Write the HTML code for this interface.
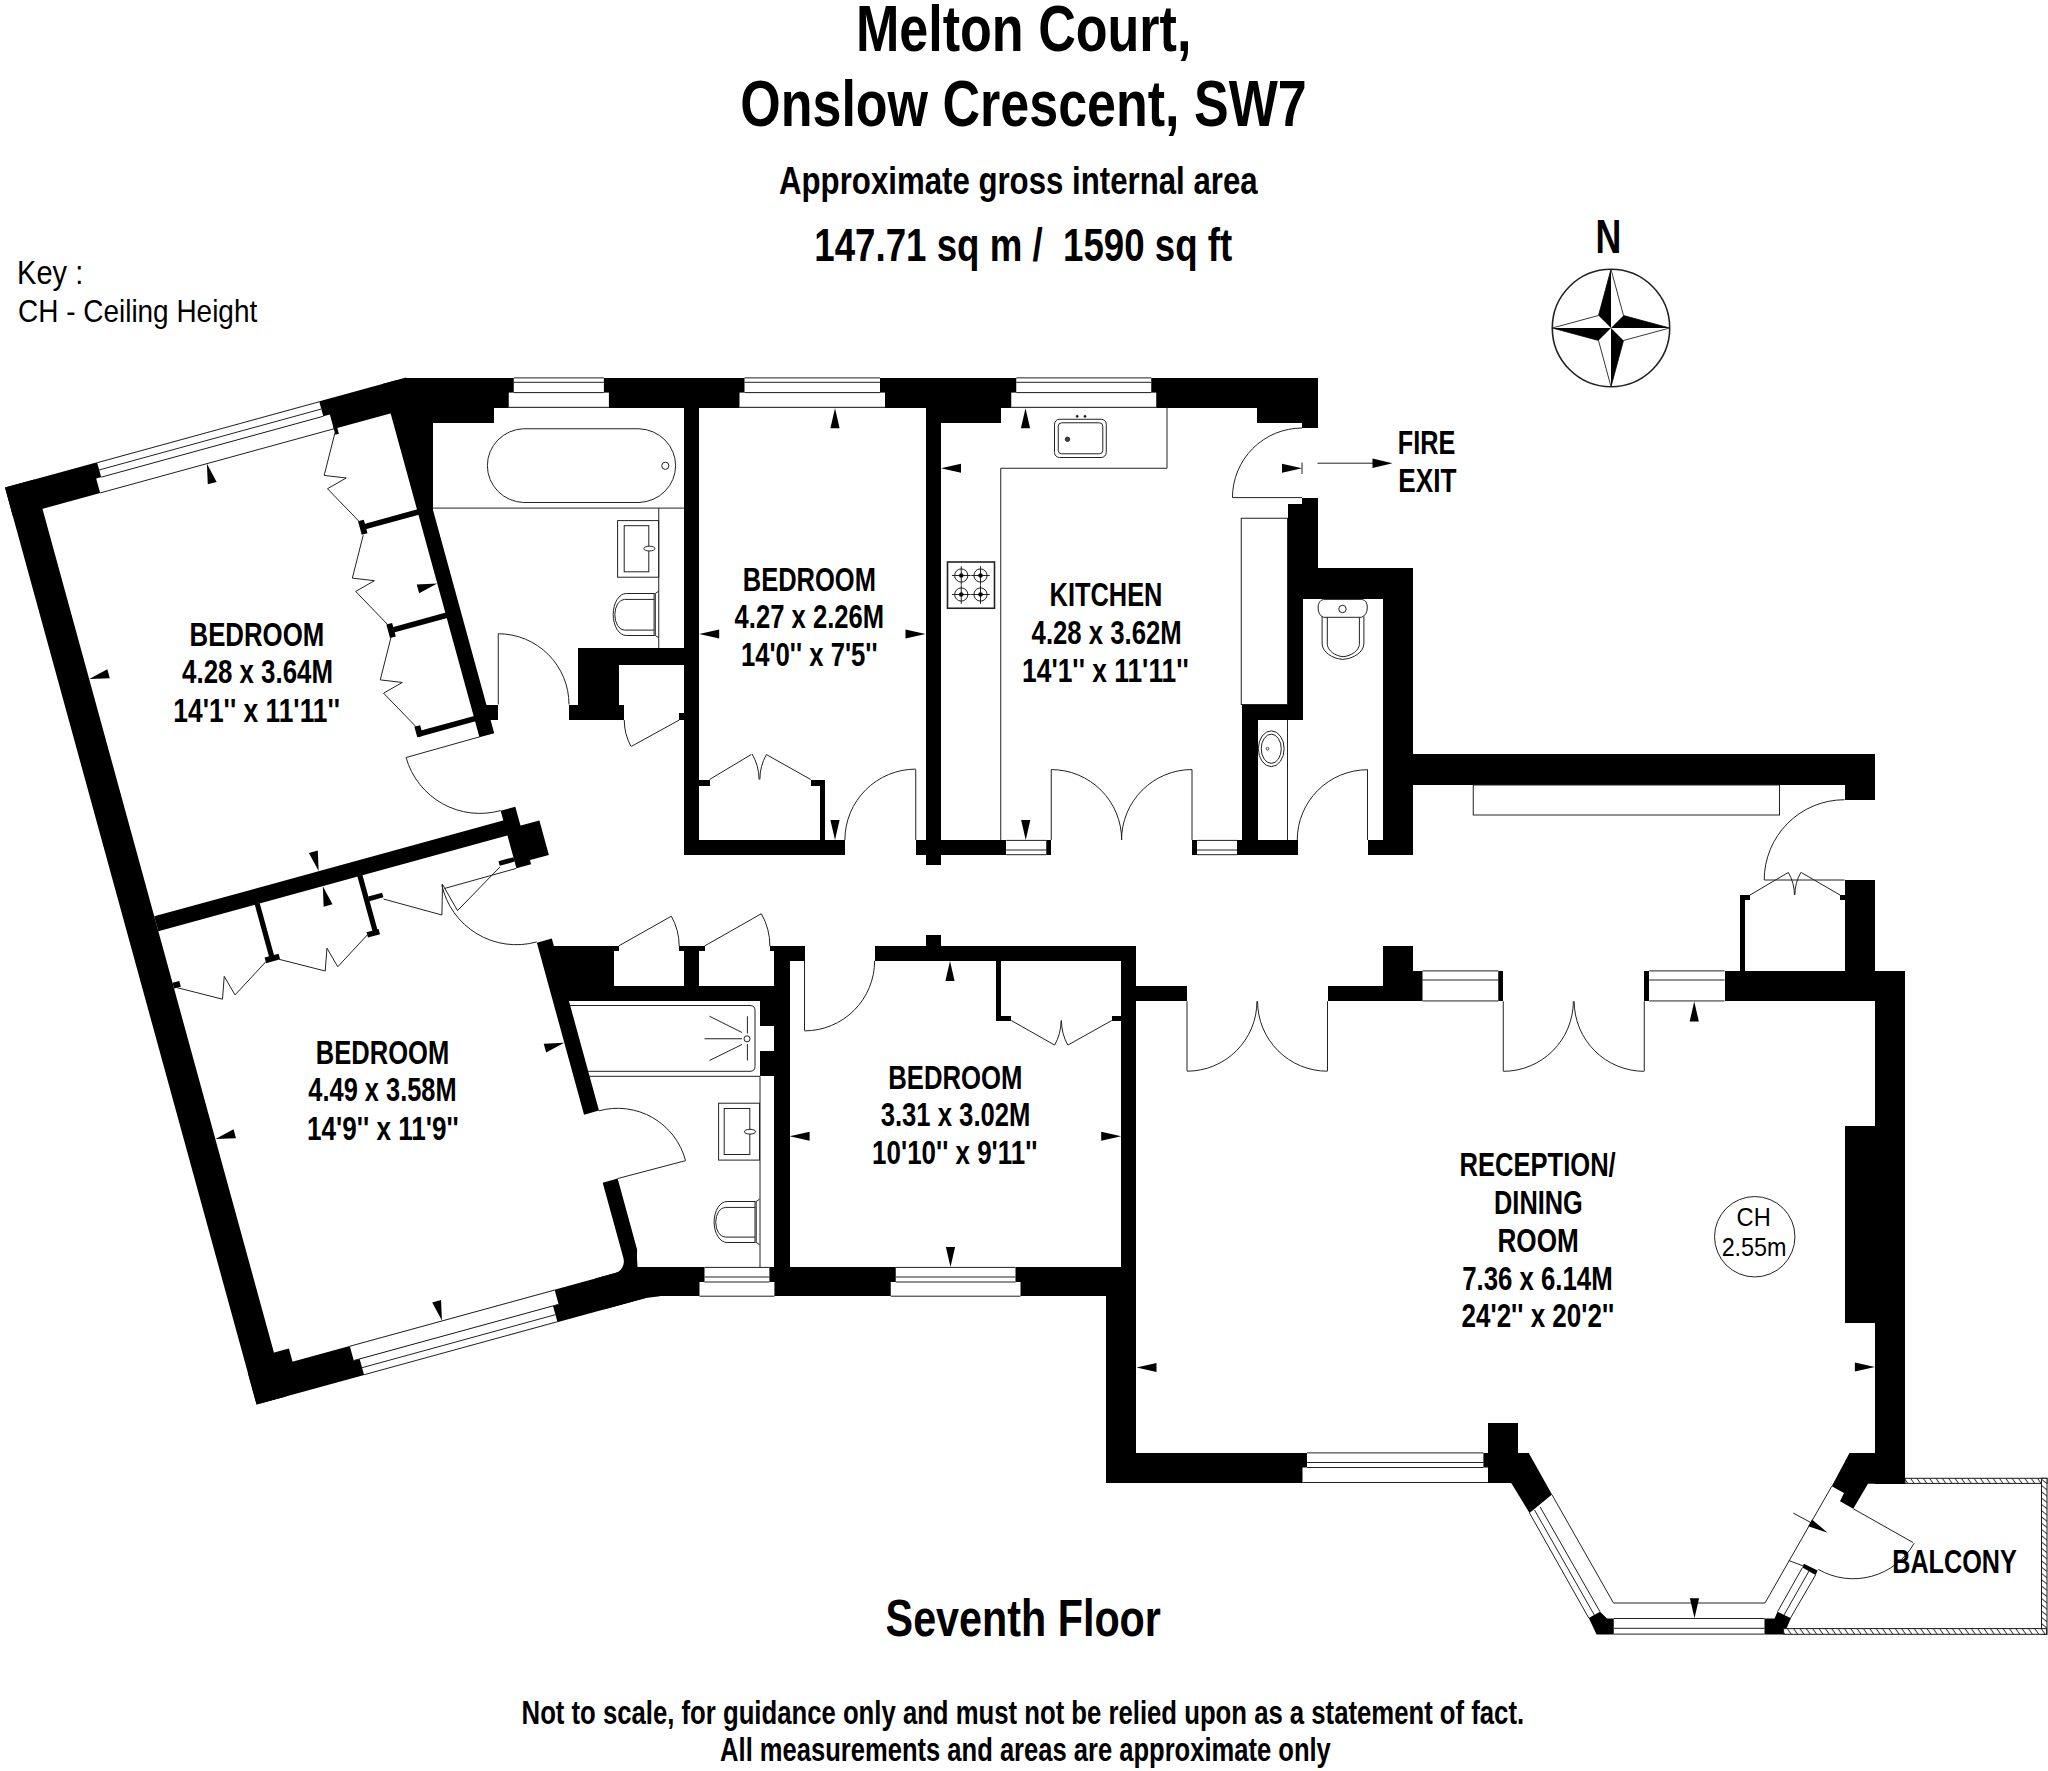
<!DOCTYPE html>
<html><head><meta charset="utf-8"><title>Melton Court floor plan</title>
<style>html,body{margin:0;padding:0;background:#fff}svg{display:block}text{font-family:"Liberation Sans",sans-serif;fill:#000;white-space:pre}</style>
</head><body>
<svg width="2048" height="1771" viewBox="0 0 2048 1771">
<defs><pattern id="hatch" width="5.2" height="5.2" patternUnits="userSpaceOnUse" patternTransform="rotate(55)"><rect width="5.2" height="5.2" fill="#fff"/><line x1="0" y1="0.5" x2="5.2" y2="0.5" stroke="#2a2a2a" stroke-width="0.9"/></pattern><pattern id="hatchv" width="4.9" height="4.9" patternUnits="userSpaceOnUse" patternTransform="rotate(38.7)"><rect width="4.9" height="4.9" fill="#fff"/><line x1="0" y1="0.5" x2="4.9" y2="0.5" stroke="#2a2a2a" stroke-width="0.9"/></pattern></defs>
<rect width="2048" height="1771" fill="#fff"/>
<g id="walls">
<polygon points="5.00,487.50 405.99,377.50 414.06,406.92 13.07,516.91" fill="#000" />
<polygon points="5.00,487.50 34.41,479.43 285.99,1396.55 256.58,1404.62" fill="#000" />
<polygon points="248.11,1373.76 637.24,1267.02 645.70,1297.88 256.58,1404.62" fill="#000" />
<polygon points="271.54,1353.33 288.90,1348.57 293.00,1363.52 275.65,1368.28" fill="#000" />
<polygon points="382.55,383.93 397.31,379.88 494.21,733.13 479.45,737.18" fill="#000" />
<polygon points="389.22,383.66 407.00,378.50 433.00,378.50 433.00,509.20 427.79,516.70" fill="#000" />
<polygon points="154.25,916.29 506.73,819.60 510.83,834.55 158.35,931.24" fill="#000" />
<polygon points="500.66,810.69 515.31,806.67 531.11,864.24 516.45,868.27" fill="#000" />
<polygon points="516.93,826.55 539.40,820.39 548.87,854.91 526.40,861.08" fill="#000" />
<polygon points="536.87,942.72 551.82,938.61 598.99,1110.56 584.04,1114.66" fill="#000" />
<polygon points="602.69,1182.65 617.64,1178.55 637.08,1249.43 637.00,1258.00 637.50,1267.00 660.00,1267.00 660.00,1296.25 645.70,1297.88 603.75,1309.38 595.29,1278.52 615.06,1273.10 615.06,1273.10 617.95,1271.89 620.42,1269.96 622.31,1267.47 623.49,1264.57 623.88,1261.46 623.46,1258.35 623.46,1258.35" fill="#000" />
<polygon points="360.58,524.97 417.48,509.36 418.96,514.76 362.06,530.37" fill="#000" />
<polygon points="388.89,628.16 445.78,612.55 447.27,617.95 390.37,633.56" fill="#000" />
<polygon points="417.24,731.54 474.14,715.93 475.62,721.33 418.73,736.94" fill="#000" />
<polygon points="358.02,521.32 363.81,519.73 367.51,533.23 361.73,534.82" fill="#000" />
<polygon points="386.33,624.50 392.11,622.92 395.82,636.42 390.03,638.00" fill="#000" />
<polygon points="414.37,726.73 420.16,725.14 423.07,735.75 417.28,737.34" fill="#000" />
<polygon points="254.66,904.30 259.67,902.93 275.01,958.86 270.00,960.24" fill="#000" />
<polygon points="264.60,957.57 278.59,953.74 280.12,959.33 266.14,963.16" fill="#000" />
<polygon points="357.36,876.13 362.38,874.76 378.51,933.58 373.50,934.96" fill="#000" />
<polygon points="366.52,932.21 378.58,928.90 380.03,934.20 367.98,937.51" fill="#000" />
<polygon points="368.14,896.51 382.12,892.67 383.39,897.30 369.41,901.14" fill="#000" />
<polygon points="172.50,982.83 179.25,980.98 180.84,986.77 174.09,988.62" fill="#000" />
<polygon points="498.46,861.28 513.50,857.15 514.72,861.58 499.68,865.71" fill="#000" />
<g shape-rendering="crispEdges">
<rect x="406.00" y="377.50" width="911.50" height="30.00" fill="#000"/>
<rect x="406.00" y="377.50" width="87.75" height="45.20" fill="#000"/>
<rect x="925.50" y="407.50" width="75.25" height="15.00" fill="#000"/>
<rect x="1257.00" y="407.50" width="60.50" height="15.00" fill="#000"/>
<rect x="1302.00" y="422.50" width="15.50" height="5.50" fill="#000"/>
<rect x="683.90" y="407.50" width="15.10" height="447.50" fill="#000"/>
<rect x="925.60" y="407.50" width="15.15" height="457.50" fill="#000"/>
<rect x="683.90" y="840.00" width="160.60" height="15.00" fill="#000"/>
<rect x="915.75" y="840.00" width="90.50" height="15.00" fill="#000"/>
<rect x="578.00" y="648.00" width="105.90" height="17.00" fill="#000"/>
<rect x="578.00" y="648.00" width="40.75" height="72.00" fill="#000"/>
<rect x="568.75" y="704.50" width="55.00" height="15.50" fill="#000"/>
<rect x="679.00" y="713.00" width="4.90" height="7.00" fill="#000"/>
<rect x="485.00" y="704.50" width="13.25" height="15.50" fill="#000"/>
<rect x="1302.00" y="498.25" width="15.50" height="69.25" fill="#000"/>
<rect x="1287.50" y="503.75" width="30.00" height="63.75" fill="#000"/>
<rect x="1287.50" y="567.50" width="125.00" height="31.25" fill="#000"/>
<rect x="1382.50" y="567.50" width="30.00" height="287.50" fill="#000"/>
<rect x="1287.50" y="503.75" width="15.00" height="216.25" fill="#000"/>
<rect x="1242.00" y="704.50" width="60.50" height="15.50" fill="#000"/>
<rect x="1242.00" y="704.50" width="15.50" height="150.50" fill="#000"/>
<rect x="1046.25" y="840.00" width="5.00" height="15.00" fill="#000"/>
<rect x="1192.00" y="840.00" width="5.00" height="15.00" fill="#000"/>
<rect x="1237.00" y="840.00" width="60.50" height="15.00" fill="#000"/>
<rect x="1367.50" y="840.00" width="45.00" height="15.00" fill="#000"/>
<rect x="1412.50" y="753.75" width="462.50" height="31.25" fill="#000"/>
<rect x="1844.50" y="785.00" width="30.50" height="15.00" fill="#000"/>
<rect x="1844.50" y="880.00" width="30.50" height="90.50" fill="#000"/>
<rect x="1724.50" y="970.50" width="180.50" height="30.75" fill="#000"/>
<rect x="1875.00" y="970.50" width="30.00" height="513.00" fill="#000"/>
<rect x="1845.00" y="1125.75" width="30.00" height="196.75" fill="#000"/>
<rect x="1136.25" y="985.75" width="50.75" height="15.50" fill="#000"/>
<rect x="1327.50" y="985.75" width="95.00" height="15.50" fill="#000"/>
<rect x="1382.50" y="946.25" width="30.00" height="39.50" fill="#000"/>
<rect x="1412.50" y="971.25" width="10.00" height="30.00" fill="#000"/>
<rect x="1498.25" y="970.50" width="5.00" height="30.75" fill="#000"/>
<rect x="1644.25" y="970.50" width="5.00" height="30.75" fill="#000"/>
<rect x="875.00" y="946.25" width="261.25" height="14.50" fill="#000"/>
<rect x="925.75" y="935.00" width="15.00" height="11.25" fill="#000"/>
<rect x="1121.25" y="946.25" width="15.00" height="350.00" fill="#000"/>
<rect x="637.50" y="1267.00" width="498.75" height="29.25" fill="#000"/>
<rect x="1106.25" y="1267.00" width="30.00" height="215.50" fill="#000"/>
<rect x="1106.25" y="1452.50" width="200.75" height="30.00" fill="#000"/>
<rect x="1106.25" y="1467.50" width="196.25" height="15.00" fill="#000"/>
<rect x="1488.00" y="1423.00" width="30.25" height="60.00" fill="#000"/>
<rect x="1483.25" y="1452.50" width="4.75" height="15.00" fill="#000"/>
<rect x="774.25" y="946.25" width="15.25" height="350.00" fill="#000"/>
<rect x="774.25" y="946.25" width="30.25" height="14.50" fill="#000"/>
<rect x="770.00" y="946.25" width="4.30" height="4.50" fill="#000"/>
<rect x="760.00" y="1001.25" width="14.25" height="25.00" fill="#000"/>
<rect x="760.00" y="1051.25" width="14.25" height="25.00" fill="#000"/>
<rect x="552.50" y="945.80" width="61.40" height="55.45" fill="#000"/>
<rect x="613.90" y="945.80" width="5.00" height="4.80" fill="#000"/>
<rect x="684.25" y="946.25" width="15.00" height="39.50" fill="#000"/>
<rect x="679.25" y="946.25" width="25.25" height="4.50" fill="#000"/>
<rect x="568.75" y="985.75" width="205.50" height="15.50" fill="#000"/>
<rect x="1739.50" y="895.00" width="5.00" height="75.50" fill="#000"/>
<rect x="1739.50" y="895.00" width="10.50" height="5.00" fill="#000"/>
<rect x="1840.00" y="895.00" width="4.50" height="5.00" fill="#000"/>
<rect x="699.00" y="779.50" width="10.50" height="6.00" fill="#000"/>
<rect x="810.75" y="779.50" width="14.25" height="6.00" fill="#000"/>
<rect x="820.00" y="779.50" width="5.00" height="60.50" fill="#000"/>
<rect x="996.25" y="960.75" width="4.50" height="59.75" fill="#000"/>
<rect x="996.25" y="1015.50" width="15.00" height="5.00" fill="#000"/>
<rect x="1111.75" y="1015.50" width="9.50" height="5.00" fill="#000"/>
</g>
<polygon points="1512.00,1453.00 1528.75,1453.00 1552.00,1494.50 1529.50,1513.00 1511.25,1483.00 1512.00,1470.00" fill="#000" />
<polygon points="1588.75,1618.00 1600.00,1611.75 1607.00,1618.50 1613.75,1618.50 1613.75,1634.40 1596.60,1634.40" fill="#000" />
<polygon points="1764.50,1618.50 1774.50,1618.50 1777.50,1611.75 1791.00,1618.20 1783.60,1634.40 1764.50,1634.40" fill="#000" />
<polygon points="1849.50,1453.00 1875.00,1453.00 1905.00,1483.70 1868.00,1483.70 1853.25,1508.75 1840.00,1501.25 1844.00,1493.00 1831.75,1486.25" fill="#000" />
<polygon points="1803.90,1563.75 1817.60,1570.60 1815.60,1574.90 1802.40,1567.60" fill="#000" />
</g>
<g id="windows">
<rect x="513.75" y="377.30" width="90.15" height="15.30" fill="#fff"/>
<rect x="508.75" y="392.60" width="100.15" height="15.00" fill="#fff"/>
<line x1="513.75" y1="377.90" x2="603.90" y2="377.90" stroke="#222" stroke-width="1.00"/>
<line x1="513.75" y1="382.30" x2="603.90" y2="382.30" stroke="#222" stroke-width="1.00"/>
<line x1="513.75" y1="392.60" x2="603.90" y2="392.60" stroke="#222" stroke-width="1.00"/>
<line x1="508.75" y1="407.30" x2="608.90" y2="407.30" stroke="#222" stroke-width="1.00"/>
<rect x="744.50" y="377.30" width="135.50" height="15.30" fill="#fff"/>
<rect x="739.50" y="392.60" width="145.50" height="15.00" fill="#fff"/>
<line x1="744.50" y1="377.90" x2="880.00" y2="377.90" stroke="#222" stroke-width="1.00"/>
<line x1="744.50" y1="382.30" x2="880.00" y2="382.30" stroke="#222" stroke-width="1.00"/>
<line x1="744.50" y1="392.60" x2="880.00" y2="392.60" stroke="#222" stroke-width="1.00"/>
<line x1="739.50" y1="407.30" x2="885.00" y2="407.30" stroke="#222" stroke-width="1.00"/>
<rect x="1016.25" y="377.30" width="135.00" height="15.30" fill="#fff"/>
<rect x="1011.25" y="392.60" width="145.00" height="15.00" fill="#fff"/>
<line x1="1016.25" y1="377.90" x2="1151.25" y2="377.90" stroke="#222" stroke-width="1.00"/>
<line x1="1016.25" y1="382.30" x2="1151.25" y2="382.30" stroke="#222" stroke-width="1.00"/>
<line x1="1016.25" y1="392.60" x2="1151.25" y2="392.60" stroke="#222" stroke-width="1.00"/>
<line x1="1011.25" y1="407.30" x2="1156.25" y2="407.30" stroke="#222" stroke-width="1.00"/>
<rect x="704.50" y="1267.00" width="64.90" height="15.00" fill="#fff"/>
<rect x="699.50" y="1282.00" width="74.90" height="14.60" fill="#fff"/>
<line x1="704.50" y1="1267.40" x2="769.40" y2="1267.40" stroke="#222" stroke-width="1.00"/>
<line x1="704.50" y1="1277.00" x2="769.40" y2="1277.00" stroke="#222" stroke-width="1.00"/>
<line x1="704.50" y1="1282.00" x2="769.40" y2="1282.00" stroke="#222" stroke-width="1.00"/>
<line x1="699.50" y1="1296.20" x2="774.40" y2="1296.20" stroke="#222" stroke-width="1.00"/>
<rect x="895.75" y="1267.00" width="119.75" height="15.00" fill="#fff"/>
<rect x="890.75" y="1282.00" width="129.75" height="14.60" fill="#fff"/>
<line x1="895.75" y1="1267.40" x2="1015.50" y2="1267.40" stroke="#222" stroke-width="1.00"/>
<line x1="895.75" y1="1277.00" x2="1015.50" y2="1277.00" stroke="#222" stroke-width="1.00"/>
<line x1="895.75" y1="1282.00" x2="1015.50" y2="1282.00" stroke="#222" stroke-width="1.00"/>
<line x1="890.75" y1="1296.20" x2="1020.50" y2="1296.20" stroke="#222" stroke-width="1.00"/>
<rect x="1307.10" y="1452.50" width="176.30" height="15.00" fill="#fff"/>
<rect x="1302.50" y="1467.50" width="185.50" height="15.40" fill="#fff"/>
<line x1="1307.10" y1="1452.90" x2="1483.40" y2="1452.90" stroke="#222" stroke-width="1.00"/>
<line x1="1307.10" y1="1462.50" x2="1483.40" y2="1462.50" stroke="#222" stroke-width="1.00"/>
<line x1="1307.10" y1="1467.50" x2="1483.40" y2="1467.50" stroke="#222" stroke-width="1.00"/>
<line x1="1302.50" y1="1482.50" x2="1488.00" y2="1482.50" stroke="#222" stroke-width="1.00"/>
<polygon points="97.02,461.95 319.11,401.02 323.29,416.26 101.20,477.18" fill="#fff" />
<polygon points="96.18,478.56 329.85,414.46 333.90,429.22 100.23,493.31" fill="#fff" />
<polyline points="97.23,462.72 319.33,401.79" fill="none" stroke="#222" stroke-width="1.00" stroke-linejoin="miter"/>
<polyline points="99.21,469.95 321.31,409.03" fill="none" stroke="#222" stroke-width="1.00" stroke-linejoin="miter"/>
<polyline points="101.20,477.18 323.29,416.26" fill="none" stroke="#222" stroke-width="1.00" stroke-linejoin="miter"/>
<polyline points="100.13,492.93 333.79,428.83" fill="none" stroke="#222" stroke-width="1.00" stroke-linejoin="miter"/>
<polygon points="333.29,427.00 336.76,426.05 338.88,433.76 335.41,434.71" fill="#000" />
<polygon points="349.71,1345.68 554.54,1289.50 558.61,1304.35 353.78,1360.54" fill="#fff" />
<polygon points="359.66,1358.92 553.02,1305.88 557.57,1322.47 364.21,1375.51" fill="#fff" />
<polyline points="349.86,1346.26 554.70,1290.07" fill="none" stroke="#222" stroke-width="1.00" stroke-linejoin="miter"/>
<polyline points="353.78,1360.54 558.61,1304.35" fill="none" stroke="#222" stroke-width="1.00" stroke-linejoin="miter"/>
<polyline points="362.07,1367.70 555.43,1314.66" fill="none" stroke="#222" stroke-width="1.00" stroke-linejoin="miter"/>
<polyline points="364.00,1374.74 557.36,1321.70" fill="none" stroke="#222" stroke-width="1.00" stroke-linejoin="miter"/>
<rect x="1006.25" y="840.00" width="40.00" height="15.00" fill="#fff"/>
<line x1="1006.25" y1="840.40" x2="1046.25" y2="840.40" stroke="#222" stroke-width="1.00"/>
<line x1="1006.25" y1="850.00" x2="1046.25" y2="850.00" stroke="#222" stroke-width="1.00"/>
<line x1="1006.25" y1="854.70" x2="1046.25" y2="854.70" stroke="#222" stroke-width="1.00"/>
<rect x="1197.00" y="840.00" width="40.00" height="15.00" fill="#fff"/>
<line x1="1197.00" y1="840.40" x2="1237.00" y2="840.40" stroke="#222" stroke-width="1.00"/>
<line x1="1197.00" y1="850.00" x2="1237.00" y2="850.00" stroke="#222" stroke-width="1.00"/>
<line x1="1197.00" y1="854.70" x2="1237.00" y2="854.70" stroke="#222" stroke-width="1.00"/>
<rect x="1422.50" y="970.50" width="75.75" height="30.75" fill="#fff"/>
<line x1="1422.50" y1="970.90" x2="1498.25" y2="970.90" stroke="#222" stroke-width="1.00"/>
<line x1="1422.50" y1="980.00" x2="1498.25" y2="980.00" stroke="#222" stroke-width="1.00"/>
<line x1="1422.50" y1="1000.95" x2="1498.25" y2="1000.95" stroke="#222" stroke-width="1.00"/>
<rect x="1649.25" y="970.50" width="75.25" height="30.75" fill="#fff"/>
<line x1="1649.25" y1="970.90" x2="1724.50" y2="970.90" stroke="#222" stroke-width="1.00"/>
<line x1="1649.25" y1="980.00" x2="1724.50" y2="980.00" stroke="#222" stroke-width="1.00"/>
<line x1="1649.25" y1="1000.95" x2="1724.50" y2="1000.95" stroke="#222" stroke-width="1.00"/>
<polyline points="1529.50,1513.00 1588.75,1618.00" fill="none" stroke="#222" stroke-width="1.00" stroke-linejoin="miter"/>
<polyline points="1534.50,1510.00 1594.30,1615.00" fill="none" stroke="#222" stroke-width="1.00" stroke-linejoin="miter"/>
<polyline points="1540.00,1506.75 1600.00,1611.75" fill="none" stroke="#222" stroke-width="1.00" stroke-linejoin="miter"/>
<polyline points="1552.00,1494.80 1613.50,1603.00 1765.00,1603.00 1831.75,1486.25" fill="none" stroke="#222" stroke-width="1.00" stroke-linejoin="miter"/>
<line x1="1613.75" y1="1618.50" x2="1764.50" y2="1618.50" stroke="#222" stroke-width="1.00"/>
<line x1="1613.75" y1="1628.30" x2="1764.50" y2="1628.30" stroke="#222" stroke-width="1.00"/>
<line x1="1613.75" y1="1634.10" x2="1764.50" y2="1634.10" stroke="#222" stroke-width="1.00"/>
<polyline points="1777.50,1611.75 1802.40,1567.60" fill="none" stroke="#222" stroke-width="1.00" stroke-linejoin="miter"/>
<polyline points="1784.00,1615.00 1809.00,1571.00" fill="none" stroke="#222" stroke-width="1.00" stroke-linejoin="miter"/>
<polyline points="1790.50,1618.00 1815.60,1574.90" fill="none" stroke="#222" stroke-width="1.00" stroke-linejoin="miter"/>
<line x1="1788.75" y1="1560.50" x2="1803.90" y2="1566.25" stroke="#222" stroke-width="1.00"/>
<rect x="1905" y="1478.3" width="142" height="5.1" fill="url(#hatch)" stroke="#1a1a1a" stroke-width="1"/>
<rect x="2041.5" y="1478.3" width="5.5" height="156" fill="url(#hatchv)" stroke="#1a1a1a" stroke-width="1"/>
<rect x="1783.6" y="1628.6" width="263" height="5.7" fill="url(#hatch)" stroke="#1a1a1a" stroke-width="1"/>
</g>
<g id="lines">
<polyline points="335.02,432.54 324.18,475.43 346.24,477.99 327.51,488.73 360.11,522.51" fill="none" stroke="#222" stroke-width="1.00" stroke-linejoin="miter"/>
<polyline points="363.19,535.24 352.35,578.14 374.41,580.69 355.69,591.43 388.29,625.21" fill="none" stroke="#222" stroke-width="1.00" stroke-linejoin="miter"/>
<polyline points="391.10,636.99 380.26,679.88 402.32,682.44 383.60,693.17 416.19,726.95" fill="none" stroke="#222" stroke-width="1.00" stroke-linejoin="miter"/>
<polyline points="176.37,987.48 222.51,999.19 224.22,976.32 235.03,994.92 266.34,961.24" fill="none" stroke="#222" stroke-width="1.00" stroke-linejoin="miter"/>
<polyline points="279.08,959.30 325.22,971.01 326.93,948.15 337.74,966.75 369.04,933.07" fill="none" stroke="#222" stroke-width="1.00" stroke-linejoin="miter"/>
<polyline points="383.55,899.02 441.90,915.00 442.50,884.40 457.50,910.60 500.00,866.90" fill="none" stroke="#222" stroke-width="1.00" stroke-linejoin="miter"/>
<polyline points="516.28,868.41 444.40,888.50" fill="none" stroke="#222" stroke-width="1.00" stroke-linejoin="miter"/>
<path d="M441.72,884.57 A76.30,76.30 0 0 0 536.75,941.92" fill="none" stroke="#222" stroke-width="1.00"/>
<polyline points="479.86,736.76 406.21,757.48" fill="none" stroke="#222" stroke-width="1.00" stroke-linejoin="miter"/>
<path d="M406.07,757.52 A76.65,76.65 0 0 0 500.71,810.52" fill="none" stroke="#222" stroke-width="1.00"/>
<polyline points="617.64,1178.55 685.33,1160.71" fill="none" stroke="#222" stroke-width="1.00" stroke-linejoin="miter"/>
<path d="M685.57,1160.65 A70.25,70.25 0 0 0 599.05,1110.80" fill="none" stroke="#222" stroke-width="1.00"/>
<line x1="432.50" y1="508.10" x2="683.90" y2="508.10" stroke="#222" stroke-width="1.00"/>
<line x1="658.75" y1="508.10" x2="658.75" y2="648.00" stroke="#222" stroke-width="1.00"/>
<path d="M523.5,428.75 L639,428.75 A38,36.9 0 0 1 639,502.5 L523.5,502.5 A37.5,36.9 0 0 1 523.5,428.75 Z" fill="none" stroke="#222" stroke-width="1.00"/>
<circle cx="665.30" cy="465.80" r="3.60" fill="none" stroke="#222" stroke-width="1.00"/>
<rect x="617.60" y="520.60" width="41.10" height="56.60" rx="0.00" fill="none" stroke="#222" stroke-width="1.00"/>
<rect x="624.20" y="525.70" width="24.60" height="46.10" rx="0.00" fill="none" stroke="#222" stroke-width="1.00"/>
<ellipse cx="649.40" cy="548.60" rx="5.60" ry="2.40" fill="#fff" stroke="#222" stroke-width="1.00"/>
<path d="M654.70,593.50 L626.20,593.50 A13,21.00 0 0 0 626.20,635.50 L654.70,635.50" fill="none" stroke="#222" stroke-width="1.00"/>
<path d="M654.20,599.40 L624.40,599.40 A9.6,15.35 0 0 0 624.40,630.10 L654.20,630.10" fill="none" stroke="#222" stroke-width="1.00"/>
<line x1="654.10" y1="593.50" x2="654.10" y2="635.50" stroke="#222" stroke-width="1.00"/>
<line x1="655.30" y1="593.50" x2="655.30" y2="635.50" stroke="#222" stroke-width="1.00"/>
<line x1="655.30" y1="593.50" x2="658.70" y2="591.20" stroke="#222" stroke-width="1.00"/>
<line x1="655.30" y1="635.50" x2="658.70" y2="637.60" stroke="#222" stroke-width="1.00"/>
<line x1="498.25" y1="633.75" x2="498.25" y2="704.50" stroke="#222" stroke-width="1.00"/>
<path d="M498.25,633.75 A70.75,70.75 0 0 1 569.00,704.50" fill="none" stroke="#222" stroke-width="1.00"/>
<polyline points="679.30,720.00 631.50,746.30" fill="none" stroke="#222" stroke-width="1.00" stroke-linejoin="miter"/>
<path d="M631.07,746.54 A55.05,55.05 0 0 1 624.25,720.00" fill="none" stroke="#222" stroke-width="1.00"/>
<polyline points="709.50,779.50 751.25,754.50" fill="none" stroke="#222" stroke-width="1.00" stroke-linejoin="miter"/>
<path d="M752.04,754.03 A49.58,49.58 0 0 1 759.08,779.50" fill="none" stroke="#222" stroke-width="1.00"/>
<polyline points="810.75,779.50 766.25,754.50" fill="none" stroke="#222" stroke-width="1.00" stroke-linejoin="miter"/>
<path d="M766.38,754.57 A50.90,50.90 0 0 0 759.85,779.50" fill="none" stroke="#222" stroke-width="1.00"/>
<line x1="915.75" y1="769.50" x2="915.75" y2="840.00" stroke="#222" stroke-width="1.00"/>
<path d="M915.75,769.12 A70.88,70.88 0 0 0 844.88,840.00" fill="none" stroke="#222" stroke-width="1.00"/>
<polyline points="1000.75,840.00 1000.75,468.25 1167.00,468.25 1167.00,407.50" fill="none" stroke="#222" stroke-width="1.00" stroke-linejoin="miter"/>
<rect x="1241.25" y="518.25" width="46.25" height="186.25" rx="0.00" fill="none" stroke="#222" stroke-width="1.00"/>
<rect x="1054.50" y="419.25" width="51.75" height="38.25" rx="5.00" fill="none" stroke="#222" stroke-width="1.00"/>
<rect x="1058.25" y="422.80" width="44.55" height="31.00" rx="3.50" fill="none" stroke="#222" stroke-width="1.00"/>
<circle cx="1067.50" cy="439.25" r="2.20" fill="#444" stroke="#222" stroke-width="0.90"/>
<circle cx="1077.20" cy="416.30" r="1.10" fill="#000" stroke="#222" stroke-width="0.60"/>
<circle cx="1085.00" cy="416.30" r="1.10" fill="#000" stroke="#222" stroke-width="0.60"/>
<rect x="947.50" y="562.00" width="47.00" height="46.25" rx="0.00" fill="none" stroke="#222" stroke-width="1.60"/>
<circle cx="961.25" cy="575.50" r="6.60" fill="none" stroke="#222" stroke-width="1.00"/>
<line x1="951.95" y1="575.50" x2="970.55" y2="575.50" stroke="#222" stroke-width="1.00"/>
<line x1="961.25" y1="566.20" x2="961.25" y2="584.80" stroke="#222" stroke-width="1.00"/>
<circle cx="961.25" cy="575.50" r="2.10" fill="#000" stroke="#222" stroke-width="0.50"/>
<circle cx="961.25" cy="594.50" r="6.60" fill="none" stroke="#222" stroke-width="1.00"/>
<line x1="951.95" y1="594.50" x2="970.55" y2="594.50" stroke="#222" stroke-width="1.00"/>
<line x1="961.25" y1="585.20" x2="961.25" y2="603.80" stroke="#222" stroke-width="1.00"/>
<circle cx="961.25" cy="594.50" r="2.10" fill="#000" stroke="#222" stroke-width="0.50"/>
<circle cx="980.50" cy="575.50" r="6.60" fill="none" stroke="#222" stroke-width="1.00"/>
<line x1="971.20" y1="575.50" x2="989.80" y2="575.50" stroke="#222" stroke-width="1.00"/>
<line x1="980.50" y1="566.20" x2="980.50" y2="584.80" stroke="#222" stroke-width="1.00"/>
<circle cx="980.50" cy="575.50" r="2.10" fill="#000" stroke="#222" stroke-width="0.50"/>
<circle cx="980.50" cy="594.50" r="6.60" fill="none" stroke="#222" stroke-width="1.00"/>
<line x1="971.20" y1="594.50" x2="989.80" y2="594.50" stroke="#222" stroke-width="1.00"/>
<line x1="980.50" y1="585.20" x2="980.50" y2="603.80" stroke="#222" stroke-width="1.00"/>
<circle cx="980.50" cy="594.50" r="2.10" fill="#000" stroke="#222" stroke-width="0.50"/>
<line x1="1051.25" y1="769.50" x2="1051.25" y2="840.00" stroke="#222" stroke-width="1.00"/>
<path d="M1051.25,769.58 A70.42,70.42 0 0 1 1121.67,840.00" fill="none" stroke="#222" stroke-width="1.00"/>
<line x1="1192.00" y1="769.50" x2="1192.00" y2="840.00" stroke="#222" stroke-width="1.00"/>
<path d="M1192.00,769.55 A70.45,70.45 0 0 0 1121.55,840.00" fill="none" stroke="#222" stroke-width="1.00"/>
<line x1="1232.50" y1="497.60" x2="1302.00" y2="497.60" stroke="#222" stroke-width="1.00"/>
<path d="M1302.00,428.05 A69.55,69.55 0 0 0 1232.45,497.60" fill="none" stroke="#222" stroke-width="1.00"/>
<line x1="1287.50" y1="720.00" x2="1287.50" y2="840.00" stroke="#222" stroke-width="1.00"/>
<ellipse cx="1271.25" cy="748.75" rx="12.90" ry="17.90" fill="none" stroke="#222" stroke-width="1.00"/>
<ellipse cx="1271.25" cy="748.75" rx="10.00" ry="14.60" fill="none" stroke="#222" stroke-width="1.00"/>
<circle cx="1267.50" cy="748.75" r="1.40" fill="none" stroke="#222" stroke-width="0.80"/>
<path d="M1323.5,599.4 L1361.9,599.4 Q1367.6,600.5 1367.3,608 Q1367,615 1361.5,617.3 L1323.3,617.3 Q1318.3,615 1318.1,608 Q1318,600.5 1323.5,599.4 Z" fill="none" stroke="#222" stroke-width="1.00"/>
<path d="M1322.1,616.4 L1322.1,644 C1322.6,652 1332,658.6 1342.8,659.4 C1354,658.6 1363.4,652 1363.9,644 L1363.9,616.4" fill="none" stroke="#222" stroke-width="1.00"/>
<path d="M1327.3,617.3 L1327.3,644.5 C1327.8,650.5 1335,656 1343,656.7 C1351.5,656 1358.9,650.5 1359.4,644.5 L1359.4,617.3" fill="none" stroke="#222" stroke-width="1.00"/>
<circle cx="1342.50" cy="609.00" r="3.70" fill="none" stroke="#222" stroke-width="1.00"/>
<line x1="1367.50" y1="769.50" x2="1367.50" y2="840.00" stroke="#222" stroke-width="1.00"/>
<path d="M1367.50,769.75 A70.25,70.25 0 0 0 1297.25,840.00" fill="none" stroke="#222" stroke-width="1.00"/>
<rect x="1473.25" y="785.00" width="306.25" height="30.00" rx="0.00" fill="none" stroke="#222" stroke-width="1.00"/>
<line x1="1764.25" y1="880.00" x2="1844.50" y2="880.00" stroke="#222" stroke-width="1.00"/>
<path d="M1844.50,799.73 A80.27,80.27 0 0 0 1764.22,880.00" fill="none" stroke="#222" stroke-width="1.00"/>
<polyline points="1750.00,895.00 1788.25,872.50" fill="none" stroke="#222" stroke-width="1.00" stroke-linejoin="miter"/>
<path d="M1788.30,872.47 A44.44,44.44 0 0 1 1794.44,895.00" fill="none" stroke="#222" stroke-width="1.00"/>
<polyline points="1840.00,895.00 1801.25,872.50" fill="none" stroke="#222" stroke-width="1.00" stroke-linejoin="miter"/>
<path d="M1800.95,872.33 A45.15,45.15 0 0 0 1794.85,895.00" fill="none" stroke="#222" stroke-width="1.00"/>
<polyline points="618.90,945.80 671.25,916.25" fill="none" stroke="#222" stroke-width="1.00" stroke-linejoin="miter"/>
<path d="M671.31,916.22 A60.28,60.28 0 0 1 679.18,946.25" fill="none" stroke="#222" stroke-width="1.00"/>
<polyline points="704.50,946.00 761.25,913.75" fill="none" stroke="#222" stroke-width="1.00" stroke-linejoin="miter"/>
<path d="M761.35,913.69 A65.39,65.39 0 0 1 769.89,946.25" fill="none" stroke="#222" stroke-width="1.00"/>
<line x1="804.50" y1="960.75" x2="804.50" y2="1030.50" stroke="#222" stroke-width="1.00"/>
<path d="M804.50,1030.88 A70.12,70.12 0 0 0 874.62,960.75" fill="none" stroke="#222" stroke-width="1.00"/>
<polyline points="1011.25,1020.50 1054.50,1045.00" fill="none" stroke="#222" stroke-width="1.00" stroke-linejoin="miter"/>
<path d="M1054.63,1045.07 A49.85,49.85 0 0 0 1061.10,1020.50" fill="none" stroke="#222" stroke-width="1.00"/>
<polyline points="1111.75,1020.50 1068.00,1045.00" fill="none" stroke="#222" stroke-width="1.00" stroke-linejoin="miter"/>
<path d="M1067.84,1045.09 A50.32,50.32 0 0 1 1061.43,1020.50" fill="none" stroke="#222" stroke-width="1.00"/>
<line x1="1187.00" y1="1001.25" x2="1187.00" y2="1070.90" stroke="#222" stroke-width="1.00"/>
<path d="M1187.00,1071.20 A69.95,69.95 0 0 0 1256.95,1001.25" fill="none" stroke="#222" stroke-width="1.00"/>
<line x1="1327.50" y1="1001.25" x2="1327.50" y2="1070.90" stroke="#222" stroke-width="1.00"/>
<path d="M1327.50,1071.20 A69.95,69.95 0 0 1 1257.55,1001.25" fill="none" stroke="#222" stroke-width="1.00"/>
<line x1="1503.25" y1="1001.25" x2="1503.25" y2="1070.90" stroke="#222" stroke-width="1.00"/>
<path d="M1503.25,1071.33 A70.08,70.08 0 0 0 1573.33,1001.25" fill="none" stroke="#222" stroke-width="1.00"/>
<line x1="1644.25" y1="1001.25" x2="1644.25" y2="1070.90" stroke="#222" stroke-width="1.00"/>
<path d="M1644.25,1071.33 A70.08,70.08 0 0 1 1574.17,1001.25" fill="none" stroke="#222" stroke-width="1.00"/>
<path d="M570,1005.5 L750,1005.5 Q755,1005.5 755,1010.5 L755,1066.3 Q755,1071.3 750,1071.3 L588,1071.3" fill="none" stroke="#222" stroke-width="1.00"/>
<polyline points="589.00,1076.30 760.00,1076.30 760.00,1267.00" fill="none" stroke="#222" stroke-width="1.00" stroke-linejoin="miter"/>
<circle cx="747.00" cy="1038.80" r="3.00" fill="none" stroke="#222" stroke-width="1.00"/>
<line x1="742.00" y1="1038.75" x2="704.50" y2="1038.75" stroke="#222" stroke-width="1.00"/>
<line x1="742.00" y1="1032.50" x2="709.50" y2="1016.25" stroke="#222" stroke-width="1.00"/>
<line x1="742.00" y1="1044.50" x2="709.50" y2="1060.50" stroke="#222" stroke-width="1.00"/>
<line x1="747.40" y1="1016.25" x2="747.40" y2="1033.50" stroke="#222" stroke-width="1.00"/>
<line x1="747.40" y1="1044.00" x2="747.40" y2="1060.50" stroke="#222" stroke-width="1.00"/>
<rect x="718.60" y="1103.20" width="40.90" height="56.90" rx="0.00" fill="none" stroke="#222" stroke-width="1.00"/>
<rect x="724.20" y="1108.50" width="25.60" height="46.00" rx="0.00" fill="none" stroke="#222" stroke-width="1.00"/>
<ellipse cx="750.00" cy="1131.70" rx="5.60" ry="2.40" fill="#fff" stroke="#222" stroke-width="1.00"/>
<path d="M755.60,1201.50 L727.10,1201.50 A13,20.50 0 0 0 727.10,1242.50 L755.60,1242.50" fill="none" stroke="#222" stroke-width="1.00"/>
<path d="M755.10,1207.40 L725.30,1207.40 A9.6,14.85 0 0 0 725.30,1237.10 L755.10,1237.10" fill="none" stroke="#222" stroke-width="1.00"/>
<line x1="755.00" y1="1201.50" x2="755.00" y2="1242.50" stroke="#222" stroke-width="1.00"/>
<line x1="756.20" y1="1201.50" x2="756.20" y2="1242.50" stroke="#222" stroke-width="1.00"/>
<line x1="756.20" y1="1201.50" x2="759.60" y2="1199.20" stroke="#222" stroke-width="1.00"/>
<line x1="756.20" y1="1242.50" x2="759.60" y2="1244.60" stroke="#222" stroke-width="1.00"/>
<polyline points="1853.25,1508.75 1913.00,1542.50" fill="none" stroke="#222" stroke-width="1.00" stroke-linejoin="miter"/>
<path d="M1914.20,1543.18 A70.01,70.01 0 0 1 1818.29,1569.40" fill="none" stroke="#222" stroke-width="1.00"/>
<polyline points="1793.25,1513.10 1812.00,1523.20" fill="none" stroke="#222" stroke-width="1.00" stroke-linejoin="miter"/>
<polygon points="1812.00,1519.40 1827.60,1532.75 1808.25,1526.25" fill="#000" />
<circle cx="1754.75" cy="1236.75" r="40.20" fill="none" stroke="#222" stroke-width="1.00"/>
</g>
<g id="arrows">
<polygon points="835.00,408.20 839.60,428.20 830.40,428.20" fill="#000" />
<polygon points="699.20,634.00 719.20,629.40 719.20,638.60" fill="#000" />
<polygon points="925.50,634.00 905.50,638.60 905.50,629.40" fill="#000" />
<polygon points="835.00,840.00 830.40,820.00 839.60,820.00" fill="#000" />
<polygon points="1025.50,408.20 1030.10,428.20 1020.90,428.20" fill="#000" />
<polygon points="941.00,468.25 961.00,463.65 961.00,472.85" fill="#000" />
<polygon points="1302.00,468.25 1282.00,472.85 1282.00,463.65" fill="#000" />
<polygon points="1025.75,840.00 1021.15,820.00 1030.35,820.00" fill="#000" />
<line x1="1302.00" y1="462.50" x2="1302.00" y2="474.00" stroke="#222" stroke-width="1.00"/>
<polygon points="950.00,961.00 954.60,981.00 945.40,981.00" fill="#000" />
<polygon points="789.60,1136.25 809.60,1131.65 809.60,1140.85" fill="#000" />
<polygon points="1121.20,1136.25 1101.20,1140.85 1101.20,1131.65" fill="#000" />
<polygon points="950.50,1267.00 945.90,1247.00 955.10,1247.00" fill="#000" />
<polygon points="1694.25,1001.50 1698.85,1021.50 1689.65,1021.50" fill="#000" />
<polygon points="1136.50,1367.50 1156.50,1362.90 1156.50,1372.10" fill="#000" />
<polygon points="1874.90,1367.00 1854.90,1371.60 1854.90,1362.40" fill="#000" />
<polygon points="1694.50,1618.30 1689.90,1598.30 1699.10,1598.30" fill="#000" />
<line x1="1317.50" y1="463.20" x2="1376.00" y2="463.20" stroke="#222" stroke-width="1.00"/>
<polygon points="1392.50,463.20 1372.50,467.90 1372.50,458.50" fill="#000" />
<polygon points="206.93,463.84 216.66,481.91 207.79,484.34" fill="#000" />
<polygon points="89.27,679.03 107.34,669.30 109.77,678.18" fill="#000" />
<polygon points="437.22,583.58 419.15,593.31 416.71,584.44" fill="#000" />
<polygon points="318.65,871.09 308.92,853.02 317.80,850.59" fill="#000" />
<polygon points="322.80,886.23 332.53,904.30 323.66,906.74" fill="#000" />
<polygon points="215.46,1139.04 233.53,1129.31 235.96,1138.18" fill="#000" />
<polygon points="564.23,1042.84 546.16,1052.57 543.73,1043.70" fill="#000" />
<polygon points="441.93,1320.49 432.20,1302.42 441.07,1299.99" fill="#000" />
</g>
<g id="compass">
<circle cx="1611.00" cy="328.00" r="58.70" fill="none" stroke="#222" stroke-width="1.60"/>
<polygon points="1611.00,269.30 1623.50,315.50 1669.70,328.00 1623.50,340.50 1611.00,386.70 1598.50,340.50 1552.30,328.00 1598.50,315.50" fill="none" stroke="#222" stroke-width="0.90" stroke-linejoin="miter"/>
<polygon points="1611.00,269.30 1598.50,315.50 1611.00,328.00" fill="#000" />
<polygon points="1669.70,328.00 1623.50,315.50 1611.00,328.00" fill="#000" />
<polygon points="1611.00,386.70 1623.50,340.50 1611.00,328.00" fill="#000" />
<polygon points="1552.30,328.00 1598.50,340.50 1611.00,328.00" fill="#000" />
</g>
<g id="text">
<text transform="translate(855.91,50.90) scale(0.8057,1)" font-size="64.64" font-weight="bold" xml:space="preserve">Melton Court,</text>
<text transform="translate(740.27,125.80) scale(0.8046,1)" font-size="64.64" font-weight="bold" xml:space="preserve">Onslow Crescent, SW7</text>
<text transform="translate(779.02,193.60) scale(0.8188,1)" font-size="38.12" font-weight="bold" xml:space="preserve">Approximate gross internal area</text>
<text transform="translate(814.29,261.20) scale(0.8060,1)" font-size="45.51" font-weight="bold" xml:space="preserve">147.71 sq m /  1590 sq ft</text>
<text transform="translate(17.12,284.10) scale(0.8977,1)" font-size="32.32" font-weight="normal" xml:space="preserve">Key :</text>
<text transform="translate(18.07,321.70) scale(0.8766,1)" font-size="31.88" font-weight="normal" xml:space="preserve">CH - Ceiling Height</text>
<text transform="translate(1595.61,253.40) scale(0.7468,1)" font-size="47.83" font-weight="bold" xml:space="preserve">N</text>
<text transform="translate(1397.81,453.70) scale(0.7635,1)" font-size="33.04" font-weight="bold" xml:space="preserve">FIRE</text>
<text transform="translate(1398.24,491.80) scale(0.7929,1)" font-size="33.04" font-weight="bold" xml:space="preserve">EXIT</text>
<text transform="translate(189.52,645.80) scale(0.7773,1)" font-size="33.19" font-weight="bold" xml:space="preserve">BEDROOM</text>
<text transform="translate(182.11,683.30) scale(0.7788,1)" font-size="33.19" font-weight="bold" xml:space="preserve">4.28 x 3.64M</text>
<text transform="translate(173.34,722.05) scale(0.7949,1)" font-size="33.19" font-weight="bold" xml:space="preserve">14'1'' x 11'11''</text>
<text transform="translate(742.79,590.80) scale(0.7684,1)" font-size="33.19" font-weight="bold" xml:space="preserve">BEDROOM</text>
<text transform="translate(734.62,628.30) scale(0.7723,1)" font-size="33.19" font-weight="bold" xml:space="preserve">4.27 x 2.26M</text>
<text transform="translate(740.88,666.30) scale(0.7743,1)" font-size="33.19" font-weight="bold" xml:space="preserve">14'0'' x 7'5''</text>
<text transform="translate(1049.55,605.80) scale(0.7655,1)" font-size="33.19" font-weight="bold" xml:space="preserve">KITCHEN</text>
<text transform="translate(1031.61,643.80) scale(0.7749,1)" font-size="33.19" font-weight="bold" xml:space="preserve">4.28 x 3.62M</text>
<text transform="translate(1022.09,681.55) scale(0.7949,1)" font-size="33.19" font-weight="bold" xml:space="preserve">14'1'' x 11'11''</text>
<text transform="translate(315.79,1063.80) scale(0.7699,1)" font-size="33.19" font-weight="bold" xml:space="preserve">BEDROOM</text>
<text transform="translate(308.37,1101.30) scale(0.7657,1)" font-size="33.19" font-weight="bold" xml:space="preserve">4.49 x 3.58M</text>
<text transform="translate(307.11,1139.55) scale(0.7855,1)" font-size="33.19" font-weight="bold" xml:space="preserve">14'9'' x 11'9''</text>
<text transform="translate(888.28,1088.80) scale(0.7743,1)" font-size="33.19" font-weight="bold" xml:space="preserve">BEDROOM</text>
<text transform="translate(880.66,1126.30) scale(0.7733,1)" font-size="33.19" font-weight="bold" xml:space="preserve">3.31 x 3.02M</text>
<text transform="translate(872.12,1163.80) scale(0.7819,1)" font-size="33.19" font-weight="bold" xml:space="preserve">10'10'' x 9'11''</text>
<text transform="translate(1459.54,1175.80) scale(0.7701,1)" font-size="33.19" font-weight="bold" xml:space="preserve">RECEPTION/</text>
<text transform="translate(1494.05,1213.80) scale(0.7642,1)" font-size="33.19" font-weight="bold" xml:space="preserve">DINING</text>
<text transform="translate(1497.50,1251.55) scale(0.7869,1)" font-size="33.19" font-weight="bold" xml:space="preserve">ROOM</text>
<text transform="translate(1462.14,1289.55) scale(0.7773,1)" font-size="33.19" font-weight="bold" xml:space="preserve">7.36 x 6.14M</text>
<text transform="translate(1461.59,1327.05) scale(0.7833,1)" font-size="33.19" font-weight="bold" xml:space="preserve">24'2'' x 20'2''</text>
<text transform="translate(1736.59,1226.40) scale(0.8958,1)" font-size="26.38" font-weight="normal" xml:space="preserve">CH</text>
<text transform="translate(1721.63,1256.10) scale(0.8855,1)" font-size="26.38" font-weight="normal" xml:space="preserve">2.55m</text>
<text transform="translate(1892.21,1573.20) scale(0.7560,1)" font-size="33.33" font-weight="bold" xml:space="preserve">BALCONY</text>
<text transform="translate(885.60,1636.20) scale(0.8072,1)" font-size="51.16" font-weight="bold" xml:space="preserve">Seventh Floor</text>
<text transform="translate(521.58,1724.00) scale(0.7716,1)" font-size="33.33" font-weight="bold" xml:space="preserve">Not to scale, for guidance only and must not be relied upon as a statement of fact.</text>
<text transform="translate(720.11,1761.40) scale(0.7671,1)" font-size="33.33" font-weight="bold" xml:space="preserve">All measurements and areas are approximate only</text>
</g>
</svg>
</body></html>
